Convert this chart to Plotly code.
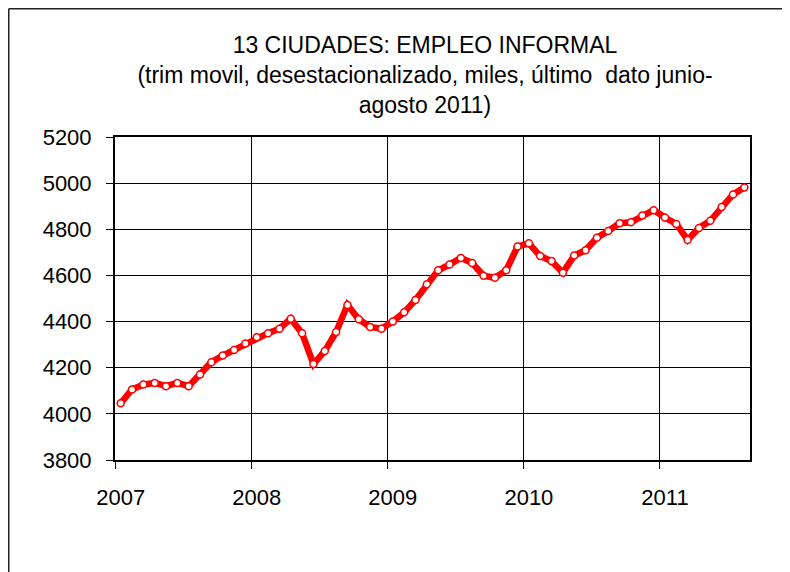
import plotly.graph_objects as go

# ---- data ----
anios = [2007, 2008, 2009, 2010, 2011]
meses_abr = ["ene", "feb", "mar", "abr", "may", "jun", "jul", "ago", "sep", "oct", "nov", "dic"]
periodos = [f"{m}-{a}" for a in anios for m in meses_abr][:56]   # ene-2007 .. ago-2011

empleo_informal = [
    4046, 4106, 4127, 4134, 4120, 4134, 4120, 4171, 4224, 4253, 4277, 4305,
    4332, 4349, 4369, 4412, 4349, 4216, 4272, 4355, 4472, 4410, 4377, 4369,
    4400, 4440, 4494, 4562, 4622, 4647, 4676, 4654, 4599, 4590, 4622, 4725,
    4739, 4684, 4662, 4612, 4686, 4709, 4763, 4793, 4826, 4830, 4860, 4883,
    4851, 4823, 4754, 4806, 4837, 4897, 4951, 4981,
]

tick_text = [str(a) for a in anios]

titulo = ("13 CIUDADES: EMPLEO INFORMAL<br>"
          "(trim movil, desestacionalizado, miles, último\u00a0\u00a0dato junio-<br>"
          "agosto 2011)")

# category positions (one slot per month)
pos = list(range(len(periodos)))
tick_pos = [periodos.index(f"ene-{a}") for a in anios]

# ---- layout geometry (page has an 8px body margin) ----
OFF = 8
W, H = 790 - OFF, 572 - OFF
ML, MT = 115 - OFF, 137 - OFF
MR = W - (750 - OFF)
MB = H - (460 - OFF)
pw, ph = W - ML - MR, H - MT - MB

def px_to_paper_x(px):
    return (px - ML) / pw

def py_to_paper_y(py):
    return (H - MB - py) / ph

FONT = "Arial, 'Liberation Sans', sans-serif"

fig = go.Figure()
fig.add_trace(go.Scatter(
    x=pos, y=empleo_informal, mode="lines+markers",
    customdata=periodos,
    line=dict(color="#FF0000", width=6.5),
    marker=dict(symbol="circle", size=7, color="white",
                line=dict(color="#FF0000", width=1.5)),
    showlegend=False, hovertemplate="%{customdata}: %{y}<extra></extra>",
))

fig.update_layout(
    width=W, height=H,
    margin=dict(l=ML, r=MR, t=MT, b=MB, pad=0, autoexpand=False),
    paper_bgcolor="white", plot_bgcolor="white",
    font=dict(family=FONT, color="black", size=22),
    title=dict(text=titulo, x=(425 - OFF) / W, xanchor="center", xref="container",
               y=1 - 45 / H, yanchor="middle", yref="container", automargin=False,
               font=dict(family=FONT, size=23, color="black")),
    xaxis=dict(range=[-0.5, len(periodos) - 0.5],
               tickmode="array", tickvals=tick_pos, ticktext=tick_text,
               tickangle=0, ticks="", showgrid=False,
               minor=dict(tickmode="linear", tick0=-0.5, dtick=12,
                          ticks="outside", ticklen=7, tickwidth=1.3, tickcolor="black",
                          showgrid=True, gridcolor="black", gridwidth=1.3),
               showline=True, linecolor="black", linewidth=2, mirror=True,
               ticklabelstandoff=17, automargin=False,
               tickfont=dict(family=FONT, size=22, color="black"),
               zeroline=False, fixedrange=True),
    yaxis=dict(range=[3800, 5200], tick0=3800, dtick=200,
               ticks="outside", ticklen=7, tickwidth=1.3, tickcolor="black",
               showgrid=True, gridcolor="black", gridwidth=1.3,
               showline=True, linecolor="black", linewidth=2, mirror=True,
               ticklabelstandoff=10, automargin=False,
               tickfont=dict(family=FONT, size=22, color="black"),
               zeroline=False, fixedrange=True),
    shapes=[
        dict(type="line", xref="paper", yref="paper",
             x0=px_to_paper_x(0.75), x1=px_to_paper_x(0.75),
             y0=py_to_paper_y(0.75), y1=py_to_paper_y(H + 10),
             line=dict(color="#222222", width=1.5)),
        dict(type="line", xref="paper", yref="paper",
             x0=px_to_paper_x(0.75), x1=px_to_paper_x(W + 10),
             y0=py_to_paper_y(0.75), y1=py_to_paper_y(0.75),
             line=dict(color="#222222", width=1.5)),
    ],
)

fig.write_html("out.html")
